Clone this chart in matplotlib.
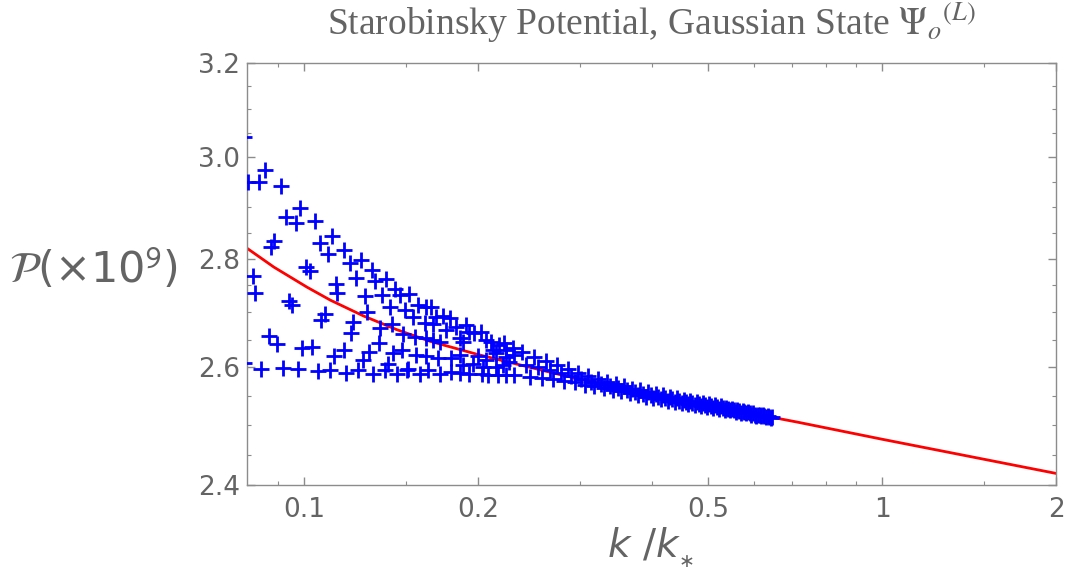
import matplotlib
matplotlib.use('Agg')
import matplotlib.pyplot as plt
from matplotlib.ticker import FixedLocator, FixedFormatter, NullFormatter

# red curve (smooth reference spectrum)
red_k = [0.0797, 0.0887, 0.1013, 0.1111, 0.1267, 0.1446, 0.165, 0.20, 0.2356, 0.2835,
         0.45, 0.714, 1.0, 2.0]
red_p = [2.820, 2.784, 2.746, 2.722, 2.693, 2.668, 2.647, 2.623, 2.605, 2.585,
         2.543, 2.505, 2.476, 2.419]

# blue points, low k (well separated)
k_low = [0.0788, 0.0788, 0.0801, 0.0836, 0.0855, 0.0911, 0.0986, 0.0929, 0.0967, 0.1043,
         0.0887, 0.0876, 0.1118, 0.1065, 0.1099, 0.0815, 0.0822, 0.1010, 0.1026, 0.1137,
         0.1140, 0.0942, 0.0954, 0.1089, 0.1070, 0.0870, 0.0899, 0.0993, 0.1033, 0.1125,
         0.0844, 0.0921, 0.0976, 0.1056, 0.1108]
p_low = [3.042, 2.608, 2.950, 2.951, 2.975, 2.943, 2.899, 2.880, 2.869, 2.873,
         2.834, 2.822, 2.843, 2.830, 2.809, 2.768, 2.735, 2.784, 2.777, 2.753,
         2.735, 2.721, 2.713, 2.696, 2.685, 2.656, 2.642, 2.634, 2.636, 2.620,
         2.598, 2.599, 2.598, 2.594, 2.596]

# blue points, middle k
k_mid = [0.1174, 0.1199, 0.1254, 0.1310, 0.1231, 0.1327, 0.1387, 0.1276, 0.1363, 0.1437,
         0.1465, 0.1520, 0.1575, 0.1629, 0.1409, 0.1495, 0.1287, 0.1545, 0.1618, 0.1218,
         0.1206, 0.1354, 0.1418, 0.1485, 0.1555, 0.1629, 0.1350, 0.1298, 0.1267, 0.1171,
         0.1427, 0.1475, 0.1561, 0.1629, 0.1399, 0.1514, 0.1183, 0.1242, 0.1315, 0.1381,
         0.1446, 0.1508, 0.1586, 0.1639]
p_mid = [2.817, 2.792, 2.797, 2.778, 2.764, 2.758, 2.762, 2.729, 2.731, 2.742,
         2.731, 2.733, 2.713, 2.710, 2.710, 2.704, 2.700, 2.691, 2.680, 2.682,
         2.661, 2.670, 2.678, 2.660, 2.655, 2.652, 2.644, 2.628, 2.613, 2.631,
         2.625, 2.632, 2.622, 2.620, 2.607, 2.598, 2.590, 2.595, 2.589, 2.595,
         2.589, 2.595, 2.589, 2.595]

k_upper = [0.1661, 0.1695, 0.1739, 0.1791, 0.1672, 0.1763, 0.1835, 0.1909, 0.1933, 0.1972,
           0.2025, 0.1672, 0.1717, 0.1859, 0.1883, 0.2065, 0.2107, 0.2177, 0.2221, 0.2295,
           0.1705, 0.1798, 0.1859, 0.1998, 0.1959, 0.2065, 0.2149, 0.2236, 0.2311, 0.2121,
           0.2236, 0.1717, 0.1798, 0.1859, 0.1933, 0.2032, 0.2079, 0.2163, 0.2236, 0.2311,
           0.1883, 0.2038, 0.2149, 0.2206, 0.2265]
p_upper = [2.710, 2.691, 2.693, 2.690, 2.679, 2.667, 2.673, 2.676, 2.664, 2.661,
           2.664, 2.649, 2.646, 2.652, 2.646, 2.649, 2.646, 2.640, 2.643, 2.634,
           2.616, 2.616, 2.622, 2.620, 2.607, 2.613, 2.625, 2.619, 2.622, 2.631,
           2.631, 2.589, 2.592, 2.590, 2.589, 2.588, 2.587, 2.586, 2.586, 2.586,
           2.604, 2.601, 2.601, 2.604, 2.610]

# blue points, high k (dense band), two interleaved passes
k_high = [0.238, 0.246, 0.254, 0.262, 0.270, 0.278, 0.286, 0.294, 0.302, 0.310,
          0.318, 0.326, 0.334, 0.342, 0.350, 0.358, 0.366, 0.374, 0.382, 0.390,
          0.398, 0.406, 0.414, 0.422, 0.430, 0.438, 0.446, 0.454, 0.462, 0.470,
          0.478, 0.486, 0.494, 0.502, 0.510, 0.518, 0.526, 0.534, 0.542, 0.550,
          0.558, 0.566, 0.574, 0.582, 0.590, 0.598, 0.606, 0.614, 0.622, 0.630,
          0.638, 0.644]
p_high = [2.628, 2.584, 2.600, 2.611, 2.580, 2.590, 2.597, 2.574, 2.580, 2.585,
          2.567, 2.571, 2.575, 2.561, 2.564, 2.567, 2.555, 2.557, 2.560, 2.549,
          2.551, 2.554, 2.544, 2.547, 2.548, 2.540, 2.542, 2.543, 2.536, 2.538,
          2.540, 2.533, 2.535, 2.536, 2.530, 2.531, 2.532, 2.526, 2.527, 2.528,
          2.523, 2.524, 2.524, 2.520, 2.520, 2.520, 2.516, 2.517, 2.517, 2.514,
          2.514, 2.513]
k_high2 = [0.242, 0.250, 0.258, 0.266, 0.274, 0.282, 0.290, 0.298, 0.306, 0.314,
           0.322, 0.330, 0.338, 0.346, 0.354, 0.362, 0.370, 0.378, 0.386, 0.394,
           0.402, 0.410, 0.418, 0.426, 0.434, 0.442, 0.450, 0.458, 0.466, 0.474,
           0.482, 0.490, 0.498, 0.506, 0.514, 0.522, 0.530, 0.538, 0.546, 0.554,
           0.562, 0.570, 0.578, 0.586, 0.594, 0.602, 0.610, 0.618, 0.626, 0.634,
           0.642]
p_high2 = [2.605, 2.619, 2.582, 2.595, 2.604, 2.577, 2.585, 2.591, 2.570, 2.575,
           2.579, 2.564, 2.568, 2.571, 2.558, 2.561, 2.563, 2.552, 2.554, 2.557,
           2.547, 2.549, 2.551, 2.542, 2.544, 2.546, 2.538, 2.540, 2.541, 2.535,
           2.536, 2.538, 2.531, 2.533, 2.534, 2.528, 2.529, 2.530, 2.525, 2.525,
           2.526, 2.521, 2.522, 2.522, 2.518, 2.518, 2.518, 2.515, 2.515, 2.515,
           2.512]

x_major = [0.1, 0.2, 0.5, 1, 2]
x_major_labels = ['0.1', '0.2', '0.5', '1', '2']
x_minor = [0.09, 0.15, 0.3, 0.4, 0.6, 0.7, 0.8, 0.9, 1.5]
y_major = [2.4, 2.6, 2.8, 3.0, 3.2]
y_major_labels = ['2.4', '2.6', '2.8', '3.0', '3.2']
y_minor = [2.45, 2.5, 2.55, 2.65, 2.7, 2.75, 2.85, 2.9, 2.95, 3.05, 3.1, 3.15]

grey_txt = '#646464'
grey_ax = '#8c8c8c'

fig = plt.figure(figsize=(10.68, 5.73), dpi=100)
ax = fig.add_axes([0.2313, 0.1536, 0.7575, 0.7370])

ax.plot(red_k, red_p, color='#ff0000', lw=2.0, zorder=2)
series = [(k_low, p_low), (k_mid, p_mid), (k_upper, p_upper),
          (k_high, p_high), (k_high2, p_high2)]
for kk, pp in series:
    ax.plot(kk, pp, ls='none', marker='+', color='#0000ff', ms=11, mew=2.0, zorder=3)

ax.set_xscale('log')
ax.set_yscale('log')
ax.set_xlim(0.0797, 2.0)
ax.set_ylim(2.4, 3.2)

ax.xaxis.set_major_locator(FixedLocator(x_major))
ax.xaxis.set_major_formatter(FixedFormatter(x_major_labels))
ax.xaxis.set_minor_locator(FixedLocator(x_minor))
ax.xaxis.set_minor_formatter(NullFormatter())
ax.yaxis.set_major_locator(FixedLocator(y_major))
ax.yaxis.set_major_formatter(FixedFormatter(y_major_labels))
ax.yaxis.set_minor_locator(FixedLocator(y_minor))
ax.yaxis.set_minor_formatter(NullFormatter())

for s in ax.spines.values():
    s.set_color(grey_ax)
    s.set_linewidth(1.0)
ax.tick_params(which='both', direction='in', top=True, right=True, color=grey_ax,
               labelcolor=grey_txt, labelsize=19)
ax.tick_params(which='major', length=6, width=1.0)
ax.tick_params(which='minor', length=3, width=0.8)
ax.tick_params(axis='x', pad=9)
ax.tick_params(axis='y', pad=5)

ax.set_title(r'Starobinsky Potential, Gaussian State $\Psi_o{}^{(L)}$',
             fontfamily='Liberation Serif', math_fontfamily='stix',
             fontsize=27, color=grey_txt, pad=20)

fig.text(0.008, 0.529, r'$\mathcal{P}$(×10$^{\mathsf{9}}$)', fontsize=31, color=grey_txt,
         math_fontfamily='stix', ha='left', va='center')
fig.text(0.609, 0.044, r'$k\ /k_{{}_{\ast}}$', fontsize=28, color=grey_txt,
         math_fontfamily='dejavusans', ha='center', va='center')

fig.savefig('out.png', dpi=100)
